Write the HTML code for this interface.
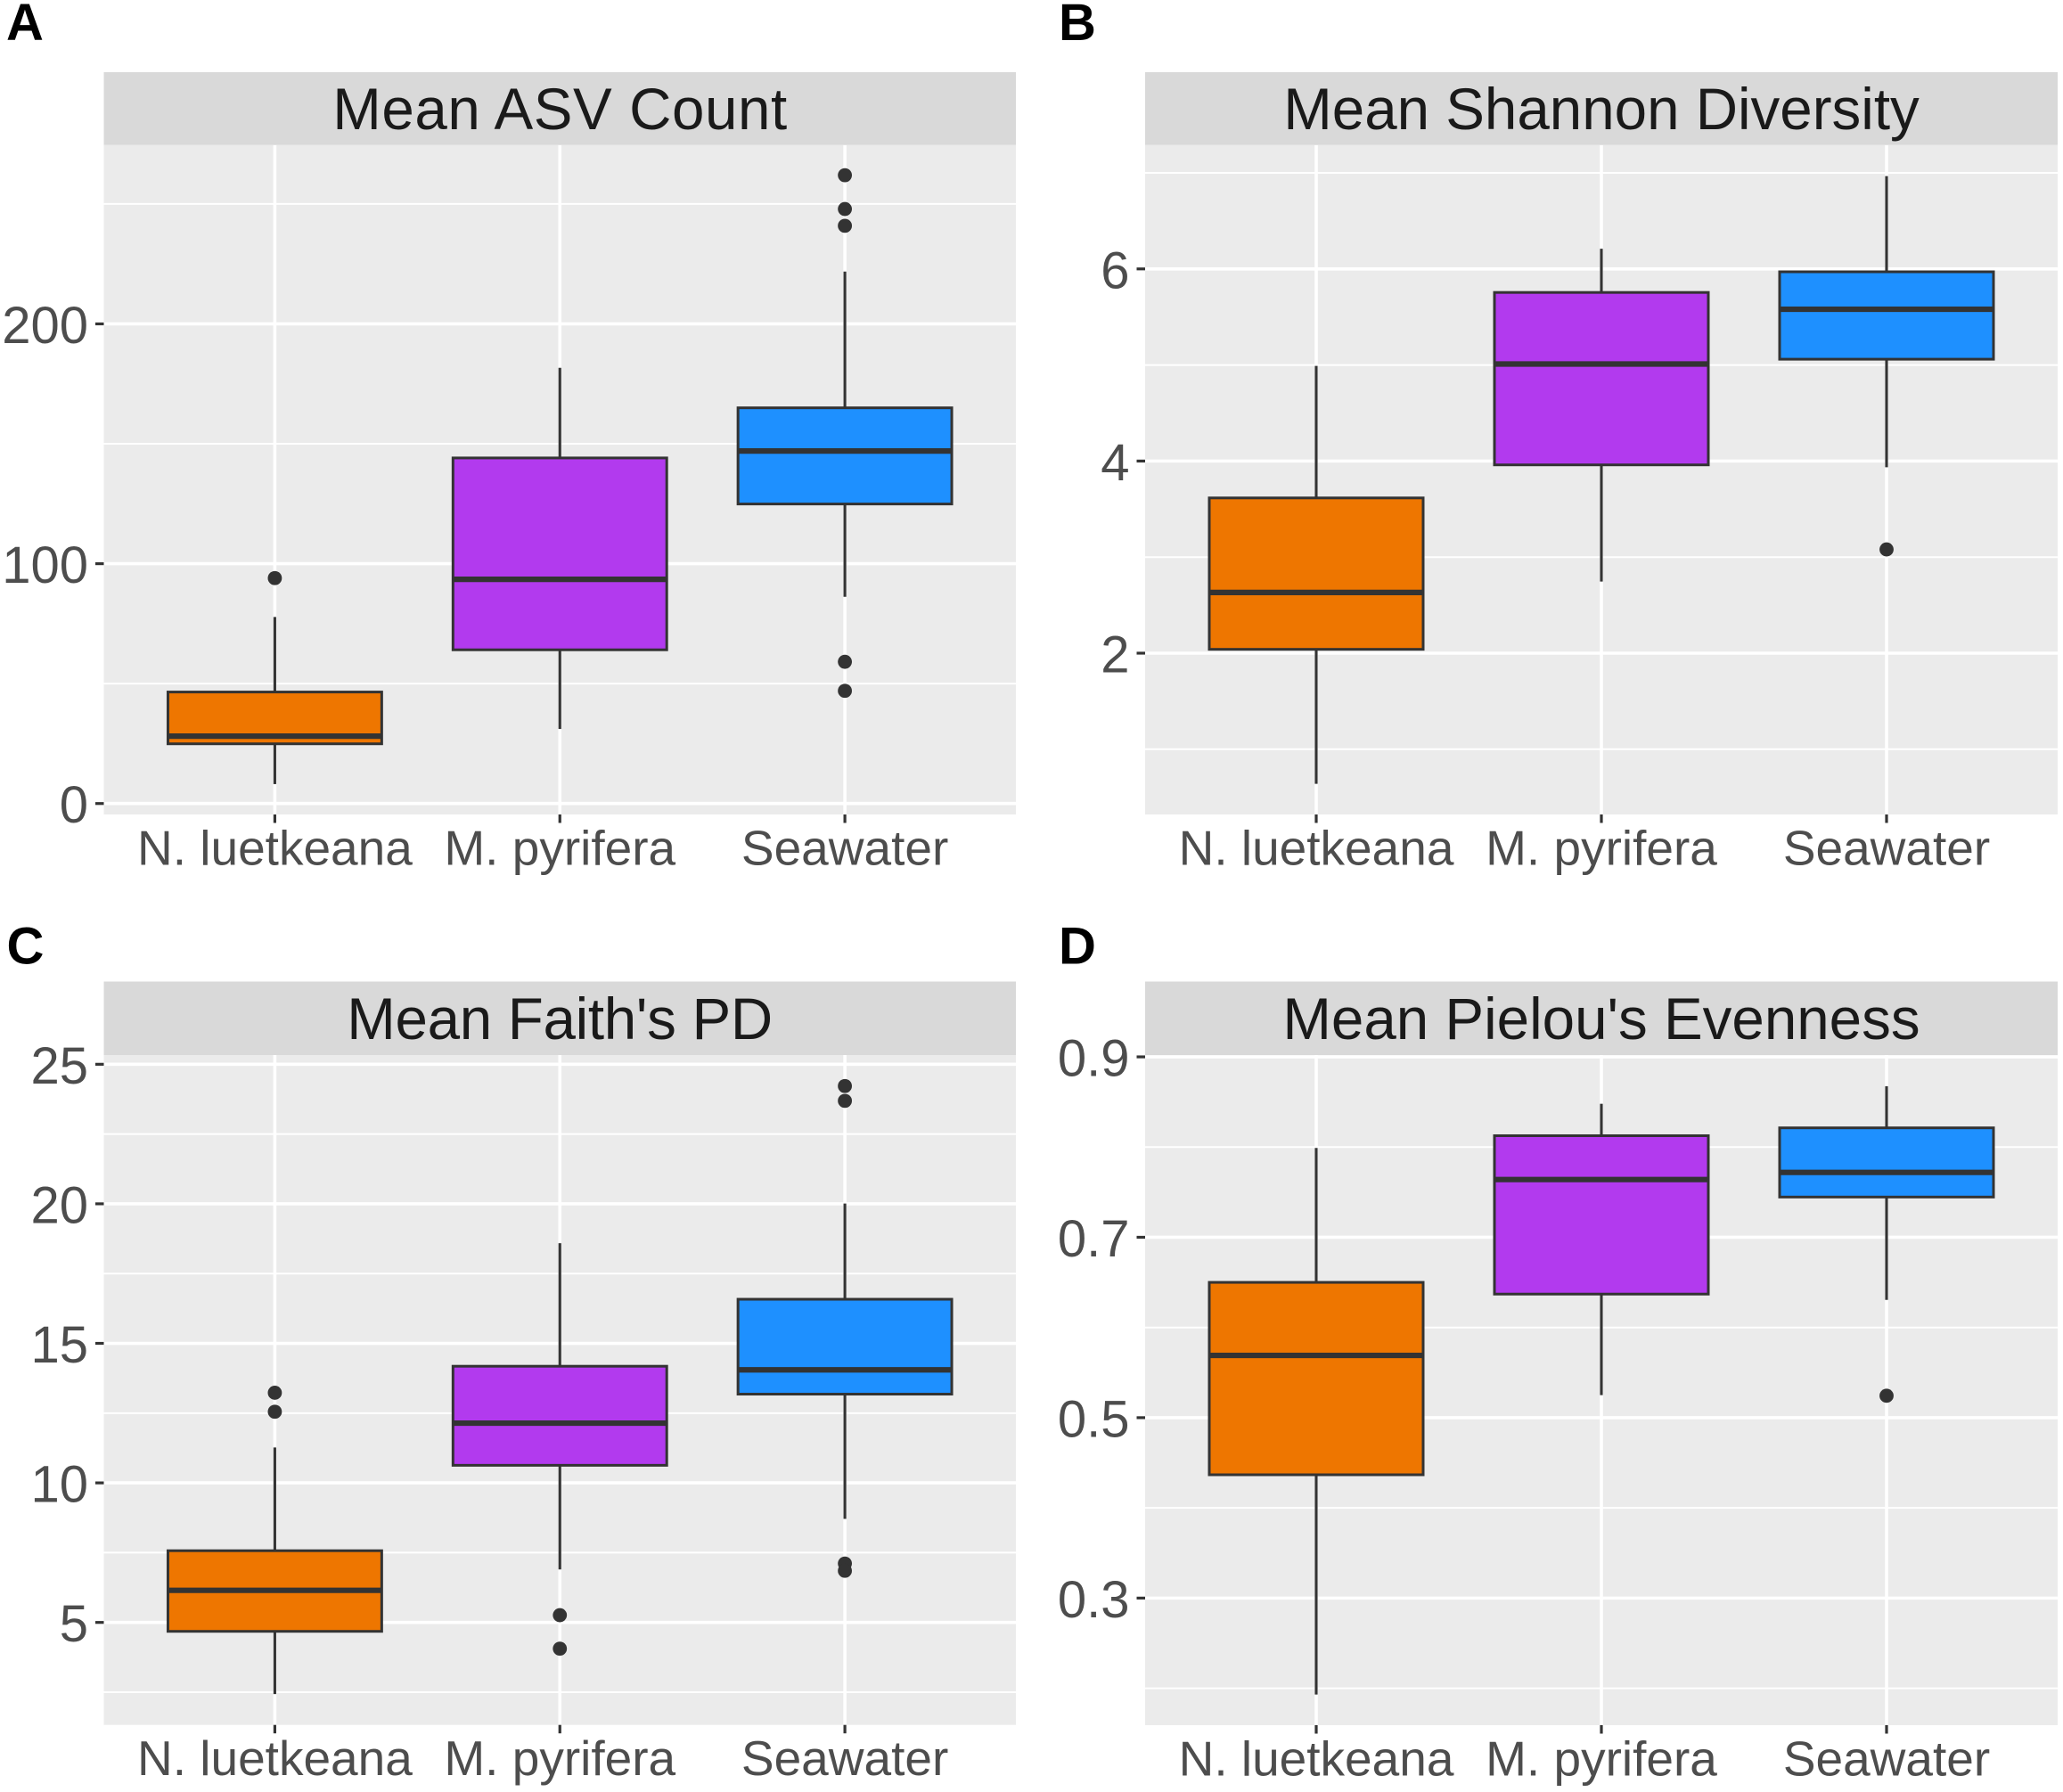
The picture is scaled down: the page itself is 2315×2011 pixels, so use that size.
<!DOCTYPE html>
<html lang="en">
<head>
<meta charset="utf-8">
<title>Alpha diversity box plots</title>
<style>
html,body{margin:0;padding:0;background:#fff;}
svg{display:block;font-family:"Liberation Sans",Arial,sans-serif;}
.tag{font-size:58px;font-weight:bold;fill:#000;}
.strip{fill:#d9d9d9;}
.strip-title{font-size:65.5px;fill:#1a1a1a;text-anchor:middle;}
</style>
</head>
<body>
<svg id="figure" xmlns="http://www.w3.org/2000/svg" width="2315" height="2011" viewBox="0 0 2315 2011">
  <rect x="0" y="0" width="2315" height="2011" fill="#ffffff"/>

  <g id="panel-a"></g>
  <g id="panel-b"></g>
  <g id="panel-c"></g>
  <g id="panel-d"></g>

  <rect class="strip" x="116.5" y="81" width="1023.5" height="81.7"/>
  <rect class="strip" x="1285" y="81" width="1024" height="81.7"/>
  <rect class="strip" x="116.5" y="1101.5" width="1023.5" height="82.5"/>
  <rect class="strip" x="1285" y="1101.5" width="1024" height="82.5"/>

  <text class="strip-title" x="628.2" y="145" textLength="510">Mean ASV Count</text>
  <text class="strip-title" x="1797" y="145">Mean Shannon Diversity</text>
  <text class="strip-title" x="628.2" y="1166" textLength="478">Mean Faith's PD</text>
  <text class="strip-title" x="1797" y="1166">Mean Pielou's Evenness</text>

  <text class="tag" x="7" y="45">A</text>
  <text class="tag" x="1188" y="45">B</text>
  <text class="tag" x="7.5" y="1081.5" font-size="56">C</text>
  <text class="tag" x="1188" y="1081.5">D</text>
</svg>

<script>
const categories = ["N. luetkeana", "M. pyrifera", "Seawater"];
const fills = ["#ee7600", "#b23aee", "#1e90ff"];

const asvDomain = [-4.56, 274.6];
const asvTicks = [0, 100, 200];
const asvTickLabels = ["0", "100", "200"];
const asvMinorTicks = [50, 150, 250];
const asvWhiskerLow = [8.1, 31.1, 86.2];
const asvQ1 = [24.9, 64.1, 124.9];
const asvMedian = [28.1, 93.5, 147];
const asvQ3 = [46.5, 144.1, 165];
const asvWhiskerHigh = [77.8, 181.7, 221.8];
const asvOutliers = [[94], [], [262, 247.9, 240.9, 59.1, 47]];

const shannonDomain = [0.321, 7.29];
const shannonTicks = [2, 4, 6];
const shannonTickLabels = ["2", "4", "6"];
const shannonMinorTicks = [1, 3, 5, 7];
const shannonWhiskerLow = [0.64, 2.745, 3.935];
const shannonQ1 = [2.04, 3.96, 5.06];
const shannonMedian = [2.632, 5.01, 5.58];
const shannonQ3 = [3.616, 5.755, 5.97];
const shannonWhiskerHigh = [4.99, 6.21, 6.966];
const shannonOutliers = [[], [], [3.08]];

const faithDomain = [1.328, 25.33];
const faithTicks = [5, 10, 15, 20, 25];
const faithTickLabels = ["5", "10", "15", "20", "25"];
const faithMinorTicks = [2.5, 7.5, 12.5, 17.5, 22.5];
const faithWhiskerLow = [2.43, 6.9, 8.71];
const faithQ1 = [4.68, 10.63, 13.18];
const faithMedian = [6.15, 12.14, 14.05];
const faithQ3 = [7.57, 14.18, 16.58];
const faithWhiskerHigh = [11.27, 18.59, 20.01];
const faithOutliers = [[13.23, 12.55], [5.26, 4.06], [24.22, 23.69, 7.11, 6.85]];

const pielouDomain = [0.1591, 0.902];
const pielouTicks = [0.3, 0.5, 0.7, 0.9];
const pielouTickLabels = ["0.3", "0.5", "0.7", "0.9"];
const pielouMinorTicks = [0.2, 0.4, 0.6, 0.8];
const pielouWhiskerLow = [0.193, 0.525, 0.6306];
const pielouQ1 = [0.4367, 0.637, 0.7446];
const pielouMedian = [0.569, 0.764, 0.7719];
const pielouQ3 = [0.65, 0.8126, 0.8213];
const pielouWhiskerHigh = [0.799, 0.848, 0.8674];
const pielouOutliers = [[], [], [0.5243]];

const SVG_NS = "http://www.w3.org/2000/svg";

function make(parent, tag, attrs) {
  const node = document.createElementNS(SVG_NS, tag);
  for (const key in attrs) {
    node.setAttribute(key, attrs[key]);
  }
  parent.appendChild(node);
  return node;
}

function drawPanel(cfg) {
  const g = document.getElementById(cfg.id);
  const left = cfg.left, right = cfg.right, top = cfg.top, bottom = cfg.bottom;
  const xUnit = (right - left) / 3.2;
  const xScale = function (i) { return left + (i + 0.6) * xUnit; };
  const yScale = function (v) {
    return bottom - (v - cfg.domain[0]) / (cfg.domain[1] - cfg.domain[0]) * (bottom - top);
  };
  const boxWidth = 0.75 * xUnit;

  const bg = make(g, "rect", { x: left, y: top, width: right - left, height: bottom - top, fill: "#ebebeb" });
  
  

  cfg.minorTicks.forEach(function (v) {
    const line = make(g, "line", { x1: left, x2: right, y1: yScale(v), y2: yScale(v), stroke: "#ffffff", "stroke-width": 2 });
    
    
  });

  cfg.ticks.forEach(function (v, i) {
    const y = yScale(v);
    const line = make(g, "line", { x1: left, x2: right, y1: y, y2: y, stroke: "#ffffff", "stroke-width": 3.6 });
    
    

    const tick = make(g, "line", { x1: left - 9.5, x2: left, y1: y, y2: y, stroke: "#333333", "stroke-width": 3.2 });
    
    

    const label = make(g, "text", { x: left - 17.5, y: y + 21.5, "text-anchor": "end", fill: "#4d4d4d", "font-size": 58 });
    
    
    label.textContent = cfg.tickLabels[i];
  });

  categories.forEach(function (name, i) {
    const x = xScale(i);
    const grid = make(g, "line", { x1: x, x2: x, y1: top, y2: bottom, stroke: "#ffffff", "stroke-width": 3.6 });
    
    

    const tick = make(g, "line", { x1: x, x2: x, y1: bottom, y2: bottom + 9.5, stroke: "#333333", "stroke-width": 3.2 });
    
    

    const label = make(g, "text", { x: x, y: bottom + 56.5, "text-anchor": "middle", fill: "#4d4d4d", "font-size": 55 });
    
    
    label.textContent = name;
  });

  categories.forEach(function (name, i) {
    const x = xScale(i);

    const upper = make(g, "line", { x1: x, x2: x, y1: yScale(cfg.whiskerHigh[i]), y2: yScale(cfg.q3[i]), stroke: "#333333", "stroke-width": 3.1 });
    
    

    const lower = make(g, "line", { x1: x, x2: x, y1: yScale(cfg.q1[i]), y2: yScale(cfg.whiskerLow[i]), stroke: "#333333", "stroke-width": 3.1 });
    
    

    const box = make(g, "rect", {
      x: x - boxWidth / 2,
      y: yScale(cfg.q3[i]),
      width: boxWidth,
      height: yScale(cfg.q1[i]) - yScale(cfg.q3[i]),
      fill: fills[i],
      stroke: "#333333",
      "stroke-width": 3
    });
    
    

    const med = make(g, "line", {
      x1: x - boxWidth / 2,
      x2: x + boxWidth / 2,
      y1: yScale(cfg.median[i]),
      y2: yScale(cfg.median[i]),
      stroke: "#333333",
      "stroke-width": 6.2
    });
    
    

    cfg.outliers[i].forEach(function (v) {
      const dot = make(g, "circle", { cx: x, cy: yScale(v), r: 7.9, fill: "#333333" });
      
      
    });
  });
}

drawPanel({
  id: "panel-a", left: 116.5, right: 1140, top: 162.7, bottom: 914,
  domain: asvDomain, ticks: asvTicks, tickLabels: asvTickLabels, minorTicks: asvMinorTicks,
  whiskerLow: asvWhiskerLow, q1: asvQ1, median: asvMedian, q3: asvQ3, whiskerHigh: asvWhiskerHigh, outliers: asvOutliers
});
drawPanel({
  id: "panel-b", left: 1285, right: 2309, top: 162.7, bottom: 914,
  domain: shannonDomain, ticks: shannonTicks, tickLabels: shannonTickLabels, minorTicks: shannonMinorTicks,
  whiskerLow: shannonWhiskerLow, q1: shannonQ1, median: shannonMedian, q3: shannonQ3, whiskerHigh: shannonWhiskerHigh, outliers: shannonOutliers
});
drawPanel({
  id: "panel-c", left: 116.5, right: 1140, top: 1184, bottom: 1935.7,
  domain: faithDomain, ticks: faithTicks, tickLabels: faithTickLabels, minorTicks: faithMinorTicks,
  whiskerLow: faithWhiskerLow, q1: faithQ1, median: faithMedian, q3: faithQ3, whiskerHigh: faithWhiskerHigh, outliers: faithOutliers
});
drawPanel({
  id: "panel-d", left: 1285, right: 2309, top: 1184, bottom: 1936,
  domain: pielouDomain, ticks: pielouTicks, tickLabels: pielouTickLabels, minorTicks: pielouMinorTicks,
  whiskerLow: pielouWhiskerLow, q1: pielouQ1, median: pielouMedian, q3: pielouQ3, whiskerHigh: pielouWhiskerHigh, outliers: pielouOutliers
});
</script>
</body>
</html>
